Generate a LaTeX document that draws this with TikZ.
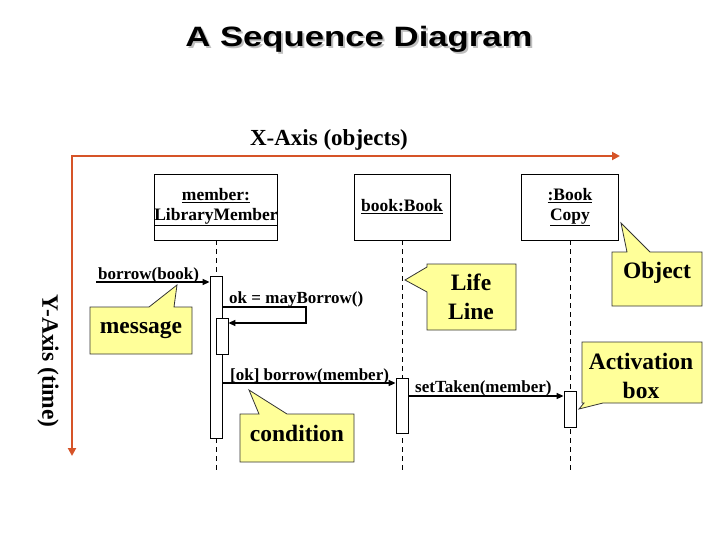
\documentclass[tikz,border=0pt]{standalone}
\usepackage{fontspec}
\usepackage{graphicx}
\setmainfont{Liberation Serif}
\newfontfamily\titlefont{Liberation Sans}
\usetikzlibrary{arrows.meta}
\definecolor{axisred}{RGB}{214,84,40}
\definecolor{noteyellow}{RGB}{255,255,153}
\begin{document}
\begin{tikzpicture}[x=1pt,y=-1pt,
  axis/.style={draw=axisred,line width=2pt,line join=miter,{Triangle[length=8pt,width=8pt]}-{Triangle[length=8pt,width=8pt]}},
  objbox/.style={draw,line width=0.8pt,fill=white,minimum height=66pt,align=center,font=\fontsize{17.5}{20}\selectfont\bfseries,inner sep=0pt},
  life/.style={dash pattern=on 5pt off 4pt,line width=0.8pt},
  actbox/.style={draw,fill=white,line width=0.8pt,minimum width=12pt,inner sep=0pt},
  msg/.style={line width=1.5pt,-{Triangle[length=7pt,width=6pt]}},
  msglabel/.style={font=\fontsize{17}{20}\selectfont\bfseries,inner sep=0pt},
  note/.style={fill=noteyellow,draw=black!80,line width=0.8pt,line join=miter},
  notetext/.style={font=\fontsize{23.5}{29.5}\selectfont\bfseries,align=center,inner sep=0pt},
  titletext/.style={font=\titlefont\bfseries\fontsize{28}{30}\selectfont,inner sep=0pt,anchor=base}
]
\useasboundingbox (0,0) rectangle (720,540);

% title with shadow
\node[titletext,text=black!25] (titleshadow) at (361,49) {\scalebox{1.24}[1]{A Sequence Diagram}};
\node[titletext] (title) at (359,47) {\scalebox{1.24}[1]{A Sequence Diagram}};

% axes
\coordinate (origin) at (72,156);
\coordinate (xend) at (620,156);
\coordinate (yend) at (72,456);
\draw[axis] (xend) -- (origin) -- (yend);
\node[font=\fontsize{23}{26}\selectfont\bfseries,anchor=base,inner sep=0pt] (xlabel) at (329,146) {X-Axis (objects)};
\node[font=\fontsize{23.5}{26}\selectfont\bfseries,rotate=-90,inner sep=0pt] (ylabel) at (48,361) {Y-Axis (time)};

% objects
\node[objbox,minimum width=120pt] (member) at (216,207) {\underline{member:}\\\underline{LibraryMember}};
\node[objbox,minimum width=96pt] (book) at (402,207) {\underline{book:Book}};
\node[objbox,minimum width=97pt] (copy) at (570,207) {\underline{:Book}\\\underline{Copy}};

% lifelines
\coordinate (memberend) at (216,470);
\coordinate (bookend) at (402,470);
\coordinate (copyend) at (570,470);
\draw[life] (member.south) -- (memberend);
\draw[life] (book.south) -- (bookend);
\draw[life] (copy.south) -- (copyend);

% activation boxes
\node[actbox,minimum height=162pt] (act1) at (216,357) {};
\node[actbox,minimum height=36pt] (act1b) at (222,336) {};
\node[actbox,minimum height=55pt] (act2) at (402,405.5) {};
\node[actbox,minimum height=36pt] (act3) at (570,409) {};

% messages
\coordinate (bstart) at (96,282);
\draw[msg] (bstart) -- (bstart -| act1.west);
\node[msglabel,anchor=base west] (lbl1) at (98,279) {borrow(book)};

\coordinate (s1) at (306,307);
\coordinate (s2) at (306,323);
\draw[msg,line join=miter] (s1 -| act1.east) -- (s1) -- (s2) -- (s2 -| act1b.east);
\node[msglabel,anchor=base west] (lbl2) at (229,303) {ok = mayBorrow()};

\coordinate (m3) at (300,383);
\draw[msg] (m3 -| act1.east) -- (m3 -| act2.west);
\node[msglabel,anchor=base west] (lbl3) at (230,380) {[ok] borrow(member)};

\coordinate (m4) at (480,396);
\draw[msg] (m4 -| act2.east) -- (m4 -| act3.west);
\node[msglabel,anchor=base west] (lbl4) at (415,392) {setTaken(member)};

% callouts
\draw[note] (90,307) -- (149,307) -- (177,285) -- (174,307) -- (192,307) -- (192,354) -- (90,354) -- cycle;
\node[notetext,anchor=base] (message) at (141,333) {message};

\draw[note] (240,414) -- (259,414) -- (249,390) -- (287,414) -- (354,414) -- (354,462) -- (240,462) -- cycle;
\node[notetext,anchor=base] (condition) at (297,441) {condition};

\draw[note] (427,264) -- (516,264) -- (516,330) -- (427,330) -- (427,292) -- (405,280) -- (427,267) -- cycle;
\node[notetext] (lifeline) at (471,297) {Life\\Line};

\draw[note] (612,252) -- (627,252) -- (621,223) -- (650,252) -- (702,252) -- (702,306) -- (612,306) -- cycle;
\node[notetext,anchor=base] (object) at (657,278) {Object};

\draw[note] (582,342) -- (702,342) -- (702,403) -- (603,403) -- (579,409) -- (584,403) -- (582,403) -- cycle;
\node[notetext] (activation) at (641,376) {Activation\\box};
\end{tikzpicture}
\end{document}
